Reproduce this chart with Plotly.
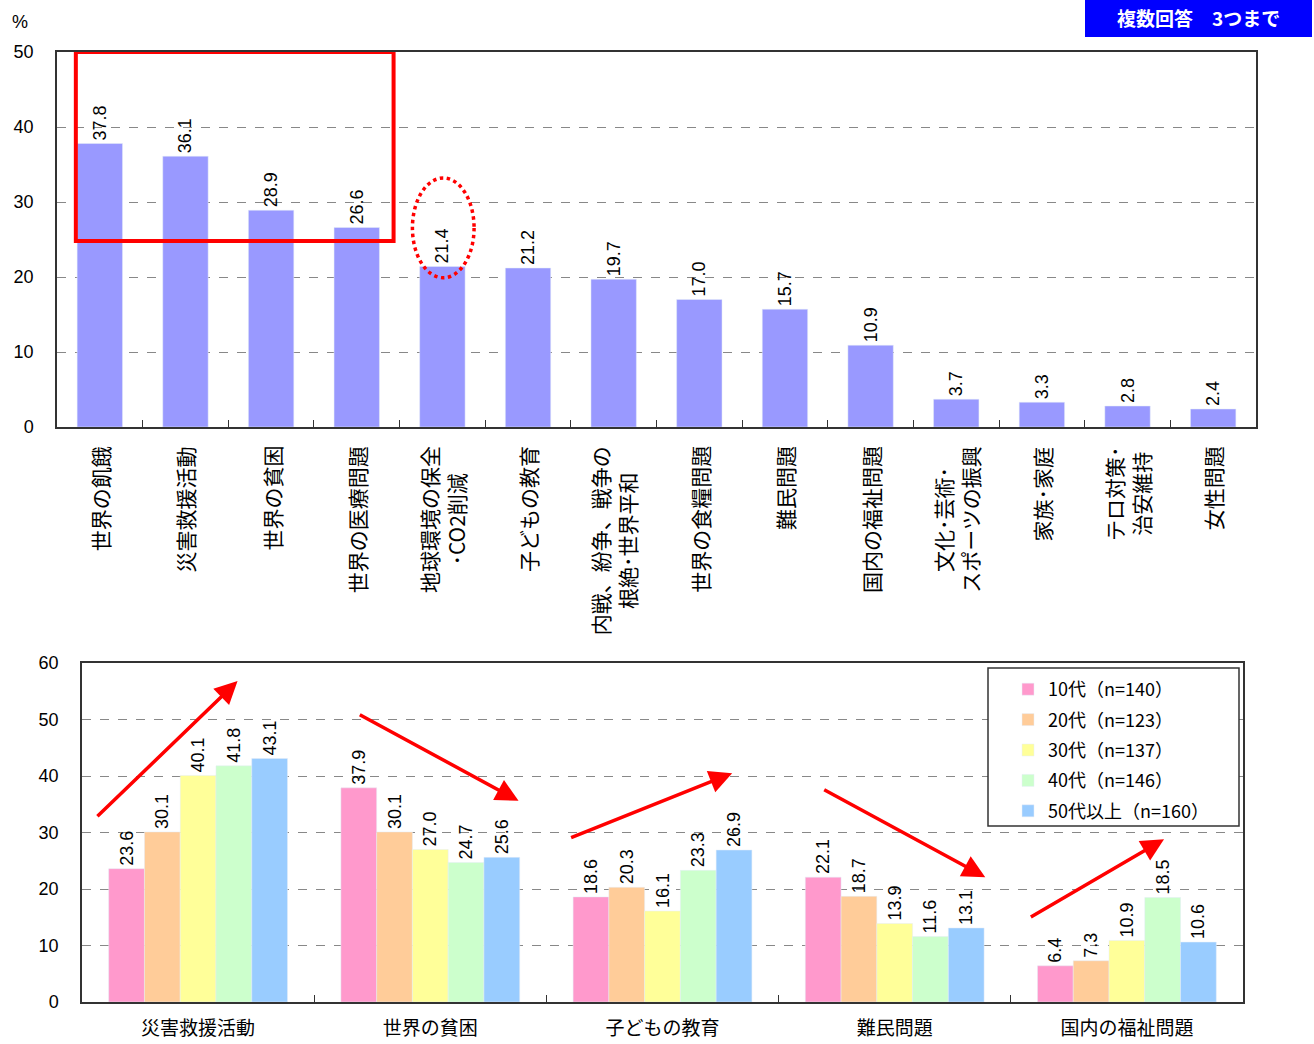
import plotly.graph_objects as go

# ---------------- data ----------------
top_categories = [
    "世界の飢餓", "災害救援活動", "世界の貧困", "世界の医療問題",
    "地球環境の保全<br>･CO2削減", "子どもの教育", "内戦、紛争、戦争の<br>根絶･世界平和",
    "世界の食糧問題", "難民問題", "国内の福祉問題", "文化･芸術･<br>スポーツの振興",
    "家族･家庭", "テロ対策･<br>治安維持", "女性問題",
]
top_values = [37.8, 36.1, 28.9, 26.6, 21.4, 21.2, 19.7, 17.0, 15.7, 10.9, 3.7, 3.3, 2.8, 2.4]

bottom_categories = ["災害救援活動", "世界の貧困", "子どもの教育", "難民問題", "国内の福祉問題"]
series_names = ["10代（n=140）", "20代（n=123）", "30代（n=137）", "40代（n=146）", "50代以上（n=160）"]
teens = [23.6, 37.9, 18.6, 22.1, 6.4]
twenties = [30.1, 30.1, 20.3, 18.7, 7.3]
thirties = [40.1, 27.0, 16.1, 13.9, 10.9]
forties = [41.8, 24.7, 23.3, 11.6, 18.5]
fifties_plus = [43.1, 25.6, 26.9, 13.1, 10.6]
series_values = [teens, twenties, thirties, forties, fifties_plus]
series_colors = ["#FF99CC", "#FFCC99", "#FFFF99", "#CCFFCC", "#99CCFF"]

top_color = "#9999FF"

NUM_FONT = "Liberation Sans, Arial, Noto Sans CJK JP"
JP_FONT = "Noto Sans CJK JP"

W, H = 1314, 1044

def px_x(p):
    return p / W

def px_y(p):
    return 1 - p / H

fig = go.Figure()

# top chart
fig.add_trace(go.Bar(
    x=top_categories, y=top_values, marker_color=top_color, width=0.53,
    texttemplate="%{y:.1f}", textposition="outside", textangle=-90,
    textfont=dict(size=18, color="black", family=NUM_FONT),
    constraintext="none", cliponaxis=False, showlegend=False,
    xaxis="x", yaxis="y",
))

# bottom chart
for name, vals, col in zip(series_names, series_values, series_colors):
    fig.add_trace(go.Bar(
        x=bottom_categories, y=vals, name=name, marker_color=col,
        texttemplate="%{y:.1f}", textposition="outside", textangle=-90,
        textfont=dict(size=18, color="black", family=NUM_FONT),
        constraintext="none", cliponaxis=False, legendgroup=name,
        xaxis="x2", yaxis="y2",
    ))

axis_common = dict(showline=True, linecolor="#333", linewidth=1.5, mirror=True,
                   automargin=False)

annotations = []
for c in top_categories:
    annotations.append(dict(
        x=c, y=px_y(444), xref="x", yref="paper", text=c, textangle=-90,
        showarrow=False, xanchor="center", yanchor="top",
        font=dict(size=21, family=JP_FONT, color="black"),
    ))

# "%" label
annotations.append(dict(x=px_x(10), y=px_y(10), xref="paper", yref="paper", text="%",
                        showarrow=False, xanchor="left", yanchor="top",
                        font=dict(size=18, family=NUM_FONT, color="black")))
# badge text
annotations.append(dict(x=px_x(1198), y=px_y(17), xref="paper", yref="paper",
                        text="<b>複数回答　3つまで</b>", showarrow=False,
                        xanchor="center", yanchor="middle",
                        font=dict(size=19, family=JP_FONT, color="white")))

# trend arrows (head x,y ; tail ax,ay) in bottom data coordinates
arrows = [
    ((0.17, 56.8), (-0.44, 32.6)),
    ((1.38, 35.6), (0.69, 51.0)),
    ((2.30, 40.5), (1.60, 29.0)),
    ((3.39, 22.1), (2.69, 37.7)),
    ((4.16, 28.8), (3.58, 14.9)),
]
for (hx, hy), (tx, ty) in arrows:
    annotations.append(dict(
        x=hx, y=hy, ax=tx, ay=ty, xref="x2", yref="y2", axref="x2", ayref="y2",
        text="", showarrow=True, arrowhead=2, arrowsize=1.3, arrowwidth=3.5,
        arrowcolor="#FF0000", standoff=0, startstandoff=0,
    ))

shapes = [
    dict(type="rect", xref="paper", yref="paper", x0=px_x(1085), x1=px_x(1312),
         y0=px_y(37), y1=px_y(0), fillcolor="#0000FF", line=dict(width=0), layer="below"),
    dict(type="rect", xref="x", yref="y", x0=-0.28, x1=3.43, y0=24.8, y1=50,
         line=dict(color="#FF0000", width=4)),
    dict(type="circle", xref="x", yref="y", x0=3.65, x1=4.37, y0=19.9, y1=33.2,
         line=dict(color="#FF0000", width=3.5, dash="dot")),
    # legend frame
    dict(type="rect", xref="paper", yref="paper", x0=px_x(988), x1=px_x(1239),
         y0=px_y(826), y1=px_y(668), fillcolor="white",
         line=dict(color="#333", width=1.5), layer="above"),
]

fig.update_layout(
    width=W, height=H, margin=dict(l=0, r=0, t=0, b=0, autoexpand=False),
    paper_bgcolor="white", plot_bgcolor="white",
    barmode="group", bargap=0.23, bargroupgap=0,
    font=dict(family=NUM_FONT, color="black"),
    xaxis=dict(domain=[px_x(57), px_x(1256)], anchor="y", type="category",
               showticklabels=False, ticks="inside", tickson="boundaries",
               ticklen=7, tickcolor="#333", showgrid=False, **axis_common),
    yaxis=dict(domain=[px_y(427), px_y(52)], anchor="x", range=[0, 50], dtick=10,
               showgrid=True, gridcolor="#888", griddash="dash", gridwidth=1,
               ticks="", ticklabelstandoff=18, zeroline=False,
               tickfont=dict(size=18, family=NUM_FONT), **axis_common),
    xaxis2=dict(domain=[px_x(82), px_x(1243)], anchor="y2", type="category",
                ticks="inside", tickson="boundaries", ticklen=7, tickcolor="#333",
                showgrid=False, ticklabelstandoff=8,
                tickfont=dict(size=19, family=JP_FONT), **axis_common),
    yaxis2=dict(domain=[px_y(1002), px_y(663)], anchor="x2", range=[0, 60], dtick=10,
                showgrid=True, gridcolor="#888", griddash="dash", gridwidth=1,
                ticks="", ticklabelstandoff=18, zeroline=False,
                tickfont=dict(size=18, family=NUM_FONT), **axis_common),
    legend=dict(x=px_x(1008), y=px_y(671), xanchor="left", yanchor="top",
                borderwidth=0, bgcolor="rgba(0,0,0,0)",
                font=dict(size=18, family=JP_FONT), traceorder="grouped",
                tracegroupgap=4, itemwidth=30),
    annotations=annotations,
    shapes=shapes,
)

fig.write_html(
    "out.html",
    config={"displayModeBar": False},
    post_script="document.body.style.margin='0';document.body.style.overflow='hidden';",
)
